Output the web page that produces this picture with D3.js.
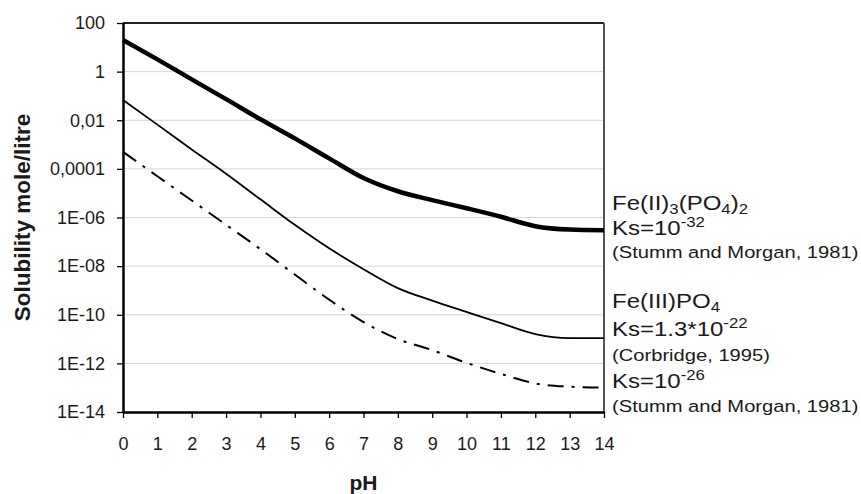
<!DOCTYPE html>
<html>
<head>
<meta charset="utf-8">
<script src="https://cdn.jsdelivr.net/npm/d3@7"></script>
<style>
    body { margin: 0; background: #fff; }
    text { font-family: "Liberation Sans", Arial, sans-serif; fill: #1a1a1a; }
</style>
</head>
<body>
<svg id="chart"></svg>
<script>
// pH values on the x axis
const pH = [0, 1, 2, 3, 4, 5, 6, 7, 8, 9, 10, 11, 12, 13, 14];

// solubility (mole/litre)
const fe2Phosphate = [2.0e1, 3.2e0, 4.8e-1, 7.4e-2, 1.1e-2, 1.8e-3, 2.7e-4, 4.2e-5, 1.2e-5, 5.2e-6, 2.4e-6, 1.07e-6, 4.4e-7, 3.2e-7, 3.0e-7];
const fe3Corbridge = [6.8e-2, 6.6e-3, 6.3e-4, 6.3e-5, 5.6e-6, 5.0e-7, 5.4e-8, 7.5e-9, 1.25e-9, 3.8e-10, 1.3e-10, 4.5e-11, 1.6e-11, 1.1e-11, 1.1e-11];
const fe3Stumm = [5.0e-4, 5.0e-5, 5.0e-6, 5.0e-7, 5.0e-8, 4.5e-9, 4.2e-10, 5.0e-11, 1.0e-11, 3.5e-12, 1.05e-12, 3.7e-13, 1.5e-13, 1.1e-13, 1.0e-13];

const yTicks = [1e2, 1e0, 1e-2, 1e-4, 1e-6, 1e-8, 1e-10, 1e-12, 1e-14];
const yTickLabels = ["100", "1", "0,01", "0,0001", "1E-06", "1E-08", "1E-10", "1E-12", "1E-14"];

const width = 861;
const height = 494;
const margin = { top: 23, right: 257, bottom: 82, left: 123 };

const svg = d3.select("#chart")
    .attr("width", width)
    .attr("height", height);

const x = d3.scaleLinear()
    .domain([0, 14])
    .range([margin.left, width - margin.right]);

const y = d3.scaleLog()
    .domain([1e-14, 1e2])
    .range([height - margin.bottom, margin.top]);

// gridlines
svg.append("g")
    .selectAll("line")
    .data(yTicks.slice(1, -1))
    .enter().append("line")
    .attr("x1", margin.left)
    .attr("x2", width - margin.right)
    .attr("y1", d => y(d))
    .attr("y2", d => y(d))
    .attr("stroke", "#d6d6d6")
    .attr("stroke-width", 1);

// frame top and right
svg.append("line")
    .attr("x1", margin.left).attr("x2", width - margin.right)
    .attr("y1", y(1e2)).attr("y2", y(1e2))
    .attr("stroke", "#222").attr("stroke-width", 2);
svg.append("line")
    .attr("x1", x(14)).attr("x2", x(14))
    .attr("y1", margin.top).attr("y2", height - margin.bottom)
    .attr("stroke", "#555").attr("stroke-width", 2);

// axes
const yAxis = svg.append("g")
    .attr("transform", `translate(${margin.left},0)`)
    .call(d3.axisLeft(y)
        .tickValues(yTicks)
        .tickFormat((d, i) => yTickLabels[i])
        .tickSize(6)
        .tickSizeOuter(0)
        .tickPadding(12));

const xAxis = svg.append("g")
    .attr("transform", `translate(0,${height - margin.bottom})`)
    .call(d3.axisBottom(x)
        .tickValues(pH)
        .tickSize(6)
        .tickSizeOuter(0)
        .tickPadding(19));

[yAxis, xAxis].forEach(g => {
    g.select(".domain").attr("stroke", "#000").attr("stroke-width", 2.5);
    g.selectAll(".tick line").attr("stroke", "#000").attr("stroke-width", 1.3);
    g.selectAll(".tick text")
        .style("font-family", "'Liberation Sans', Arial, sans-serif")
        .style("font-size", "18px")
        .attr("fill", "#1a1a1a");
});

// series
const line = d3.line()
    .x((d, i) => x(pH[i]))
    .y(d => y(d))
    .curve(d3.curveMonotoneX);

svg.append("path")
    .datum(fe2Phosphate)
    .attr("d", line)
    .attr("fill", "none")
    .attr("stroke", "#000")
    .attr("stroke-width", 4.5);

svg.append("path")
    .datum(fe3Corbridge)
    .attr("d", line)
    .attr("fill", "none")
    .attr("stroke", "#000")
    .attr("stroke-width", 1.8);

svg.append("path")
    .datum(fe3Stumm)
    .attr("d", line)
    .attr("fill", "none")
    .attr("stroke", "#000")
    .attr("stroke-width", 2)
    .attr("stroke-dasharray", "16,8,3,8");

// axis titles
svg.append("text")
    .attr("transform", `translate(30,${(margin.top + height - margin.bottom) / 2}) rotate(-90)`)
    .attr("text-anchor", "middle")
    .style("font-size", "22.5px")
    .style("font-weight", "bold")
    .text("Solubility mole/litre");

svg.append("text")
    .attr("x", (margin.left + width - margin.right) / 2)
    .attr("y", 490)
    .attr("text-anchor", "middle")
    .style("font-size", "21px")
    .style("font-weight", "bold")
    .text("pH");

// labels on the right
const notes = svg.append("g")
    .attr("transform", "translate(612,0) scale(1.2,1)");

function note(yPos, parts, size) {
    const t = notes.append("text")
        .attr("x", 0)
        .attr("y", yPos)
        .style("font-size", size + "px");
    let shift = 0;
    parts.forEach(p => {
        const want = p.sub ? 4 : p.sup ? -8 : 0;
        t.append("tspan")
            .attr("dy", want - shift)
            .style("font-size", (p.sub || p.sup) ? "14px" : size + "px")
            .text(p.t);
        shift = want;
    });
}

note(210, [{ t: "Fe(II)" }, { t: "3", sub: true }, { t: "(PO" }, { t: "4", sub: true }, { t: ")" }, { t: "2", sub: true }], 20);
note(235, [{ t: "Ks=10" }, { t: "-32", sup: true }], 20);
note(258, [{ t: "(Stumm and Morgan, 1981)" }], 16.8);
note(308, [{ t: "Fe(III)PO" }, { t: "4", sub: true }], 20);
note(336, [{ t: "Ks=1.3*10" }, { t: "-22", sup: true }], 20);
note(361, [{ t: "(Corbridge, 1995)" }], 16.8);
note(388, [{ t: "Ks=10" }, { t: "-26", sup: true }], 20);
note(412, [{ t: "(Stumm and Morgan, 1981)" }], 16.8);
</script>
</body>
</html>
